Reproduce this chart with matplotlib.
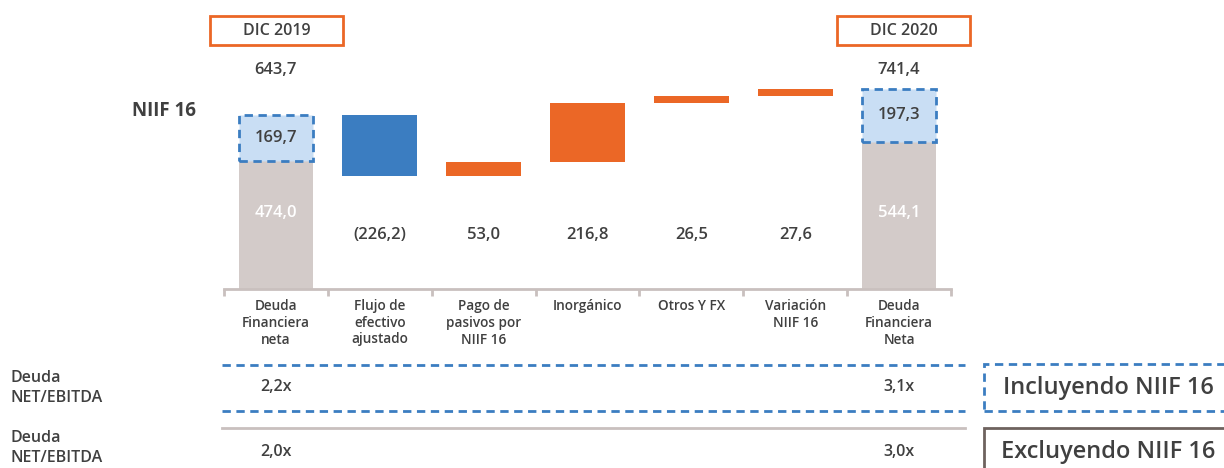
import matplotlib.pyplot as plt
import matplotlib.transforms as mtransforms
from matplotlib.patches import Rectangle
from matplotlib.lines import Line2D

plt.rcParams['font.family'] = ['Open Sans', 'DejaVu Sans']

categories = ["Deuda\nFinanciera\nneta", "Flujo de\nefectivo\najustado", "Pago de\npasivos por\nNIIF 16",
              "Inorgánico", "Otros Y FX", "Variación\nNIIF 16", "Deuda\nFinanciera\nNeta"]
start_base, start_niif = 474.0, 169.7
end_base, end_niif = 544.1, 197.3
deltas = [-226.2, 53.0, 216.8, 26.5, 27.6]
ratio_incl = ["2,2x", "3,1x"]
ratio_excl = ["2,0x", "3,0x"]
period_labels = ["DIC 2019", "DIC 2020"]

ORANGE = "#EB6726"
BLUE = "#3B7DC1"
LIGHT_BLUE = "#C9DEF4"
GREY_BAR = "#D3CBC9"
AXIS_GREY = "#C9C0BE"
TEXT = "#404040"

W, H = 1224, 468
fig = plt.figure(figsize=(W / 100, H / 100), dpi=100)


def fy(py):
    return 1 - py / H


# main axes: x pixels 224..951, baseline at pixel 289
scale = 0.2703  # px per unit
ax = fig.add_axes([224 / W, fy(289), (951 - 224) / W, 289 / H])
ax.set_xlim(-0.5, 6.5)
ax.set_ylim(0, 289 / scale)

bw = 0.72
dash = (0, (3, 2))
fmt = lambda v: f"{abs(v):.1f}".replace(".", ",")

# start and end stacked bars
for x, base, niif in [(0, start_base, start_niif), (6, end_base, end_niif)]:
    ax.bar(x, base, width=bw, color=GREY_BAR, linewidth=0)
    ax.bar(x, niif, bottom=base, width=bw, color=LIGHT_BLUE, edgecolor=BLUE,
           linewidth=2, linestyle=dash)
    ax.text(x, base + niif / 2, fmt(niif), ha="center", va="center",
            fontsize=12, color=TEXT, fontweight="semibold")
    ax.text(x, 281, fmt(base), ha="center", va="center", fontsize=12,
            color="white", fontweight="semibold")
    ax.text(x, 811, fmt(base + niif), ha="center", va="center", fontsize=12,
            color=TEXT, fontweight="semibold")

# floating delta bars
level = start_base + start_niif
for i, d in enumerate(deltas, start=1):
    lo = min(level, level + d)
    ax.bar(i, abs(d), bottom=lo, width=bw, color=BLUE if d < 0 else ORANGE, linewidth=0)
    lab = f"({fmt(d)})" if d < 0 else fmt(d)
    ax.text(i, 200, lab, ha="center", va="center", fontsize=12, color=TEXT,
            fontweight="semibold")
    level += d

for s in ["top", "right", "left"]:
    ax.spines[s].set_visible(False)
ax.spines["bottom"].set_color(AXIS_GREY)
ax.spines["bottom"].set_linewidth(2)
ax.set_yticks([])
ax.set_xticks([i - 0.5 for i in range(8)])
ax.set_xticklabels([])
ax.tick_params(axis="x", length=5, width=2, color=AXIS_GREY)

trans = mtransforms.blended_transform_factory(ax.transData, fig.transFigure)
for i, c in enumerate(categories):
    ax.text(i, fy(299), c, transform=trans, ha="center", va="top", fontsize=9.8,
            color=TEXT, linespacing=1.25, fontweight="semibold")

# period boxes
for label, x0 in zip(period_labels, [210, 837]):
    fig.patches.append(Rectangle((x0 / W, fy(45)), 133 / W, 29 / H, transform=fig.transFigure,
                                 fill=False, edgecolor=ORANGE, linewidth=2))
    fig.text((x0 + 66.5) / W, fy(31), label, ha="center", va="center", fontsize=11.5,
             color=TEXT, fontweight="semibold")

fig.text(164 / W, fy(111), "NIIF 16", ha="center", va="center", fontsize=13.5,
         color=TEXT, fontweight="bold")

# ratio table
for py, style, col in [(365, dash, BLUE), (411, dash, BLUE), (428, "-", AXIS_GREY)]:
    fig.add_artist(Line2D([222 / W, 965 / W], [fy(py), fy(py)], transform=fig.transFigure,
                          color=col, linewidth=2, linestyle=style))

for py in [378, 438]:
    fig.text(10 / W, fy(py + 10), "Deuda\nNET/EBITDA", ha="left", va="center", fontsize=11.5,
             color=TEXT, linespacing=1.35, fontweight="semibold")

for xi, lab in zip([0, 6], ratio_incl):
    ax.text(xi, fy(387), lab, transform=trans, ha="center", va="center", fontsize=11.5,
            color=TEXT, fontweight="semibold")
for xi, lab in zip([0, 6], ratio_excl):
    ax.text(xi, fy(452), lab, transform=trans, ha="center", va="center", fontsize=11.5,
            color=TEXT, fontweight="semibold")

fig.patches.append(Rectangle((984 / W, fy(411)), 260 / W, 47 / H, transform=fig.transFigure,
                             fill=False, edgecolor=BLUE, linewidth=2, linestyle=dash))
fig.text(1003 / W, fy(388), "Incluyendo NIIF 16", ha="left", va="center", fontsize=17,
         color=TEXT, fontweight="semibold")
fig.patches.append(Rectangle((984 / W, fy(480)), 260 / W, 52 / H, transform=fig.transFigure,
                             fill=False, edgecolor="#6E625E", linewidth=2))
fig.text(1001 / W, fy(452), "Excluyendo NIIF 16", ha="left", va="center", fontsize=17,
         color=TEXT, fontweight="semibold")

fig.savefig("out.png", dpi=100)
